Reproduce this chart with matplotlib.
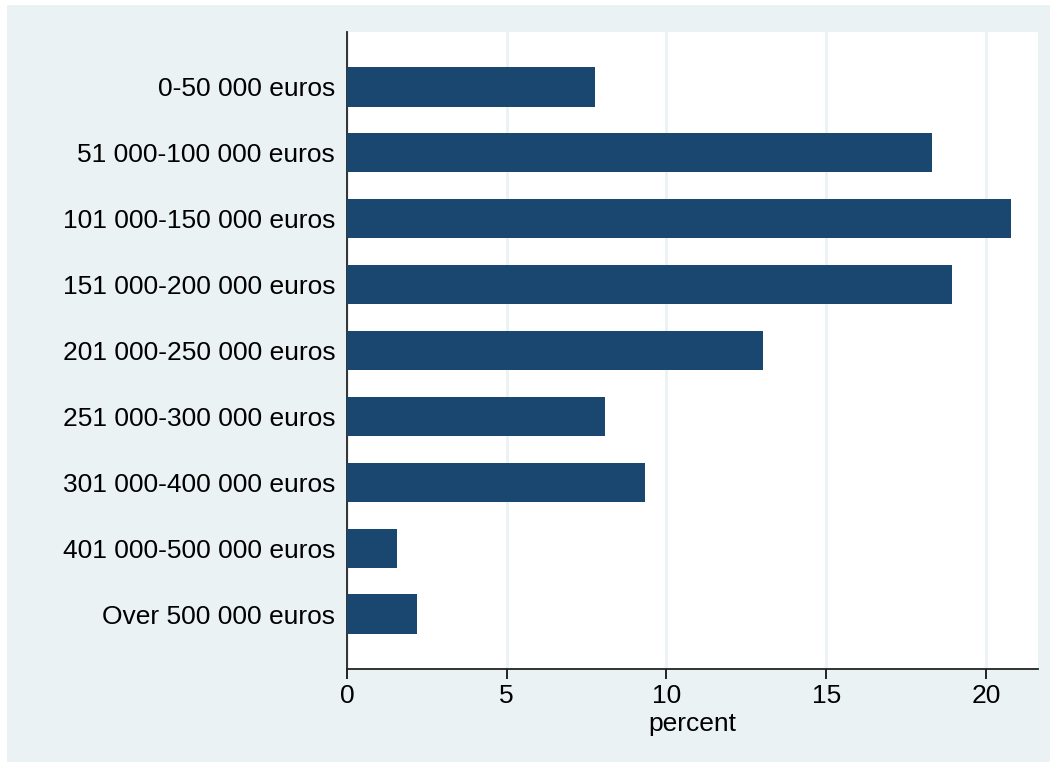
import matplotlib.pyplot as plt
from matplotlib.patches import Rectangle

plt.rcParams['font.family'] = ['Liberation Sans', 'DejaVu Sans']

categories = [
    "0-50 000 euros",
    "51 000-100 000 euros",
    "101 000-150 000 euros",
    "151 000-200 000 euros",
    "201 000-250 000 euros",
    "251 000-300 000 euros",
    "301 000-400 000 euros",
    "401 000-500 000 euros",
    "Over 500 000 euros",
]
percent = [7.76, 18.31, 20.78, 18.94, 13.02, 8.08, 9.33, 1.56, 2.19]
xticks = [0, 5, 10, 15, 20]

bar_color = "#1a476f"
bg_color = "#eaf2f3"

fig = plt.figure(figsize=(10.57, 7.67), dpi=100)
fig.patch.set_facecolor("white")
# light outer panel with a thin white border
fig.patches.append(Rectangle((7 / 1057, 5 / 767), 1043 / 1057, 757 / 767,
                             transform=fig.transFigure, facecolor=bg_color,
                             edgecolor="none", zorder=-10))

ax = fig.add_axes([347 / 1057, 1 - 669 / 767, 691 / 1057, 637 / 767])
ax.set_facecolor("white")

ypos = list(range(len(categories)))
ax.barh(ypos, percent, height=0.6, color=bar_color, zorder=3)

ax.set_xlim(0, 21.63)
ax.set_ylim(len(categories) - 1 + 0.83, -0.83)
ax.set_yticks(ypos)
ax.set_yticklabels(categories, fontsize=19)
ax.set_xticks(xticks)
ax.set_xticklabels([str(t) for t in xticks], fontsize=19)
ax.tick_params(axis="y", length=0, pad=8.5)
ax.tick_params(axis="x", length=7, width=1.2, pad=4)
ax.set_xlabel("percent", fontsize=19, labelpad=3)

ax.grid(axis="x", color=bg_color, linewidth=2, zorder=1)
ax.set_axisbelow(True)

for side in ("top", "right"):
    ax.spines[side].set_visible(False)
for side in ("left", "bottom"):
    ax.spines[side].set_linewidth(1.3)
    ax.spines[side].set_color("#222222")

fig.savefig("out.png", dpi=100, facecolor=fig.get_facecolor())
